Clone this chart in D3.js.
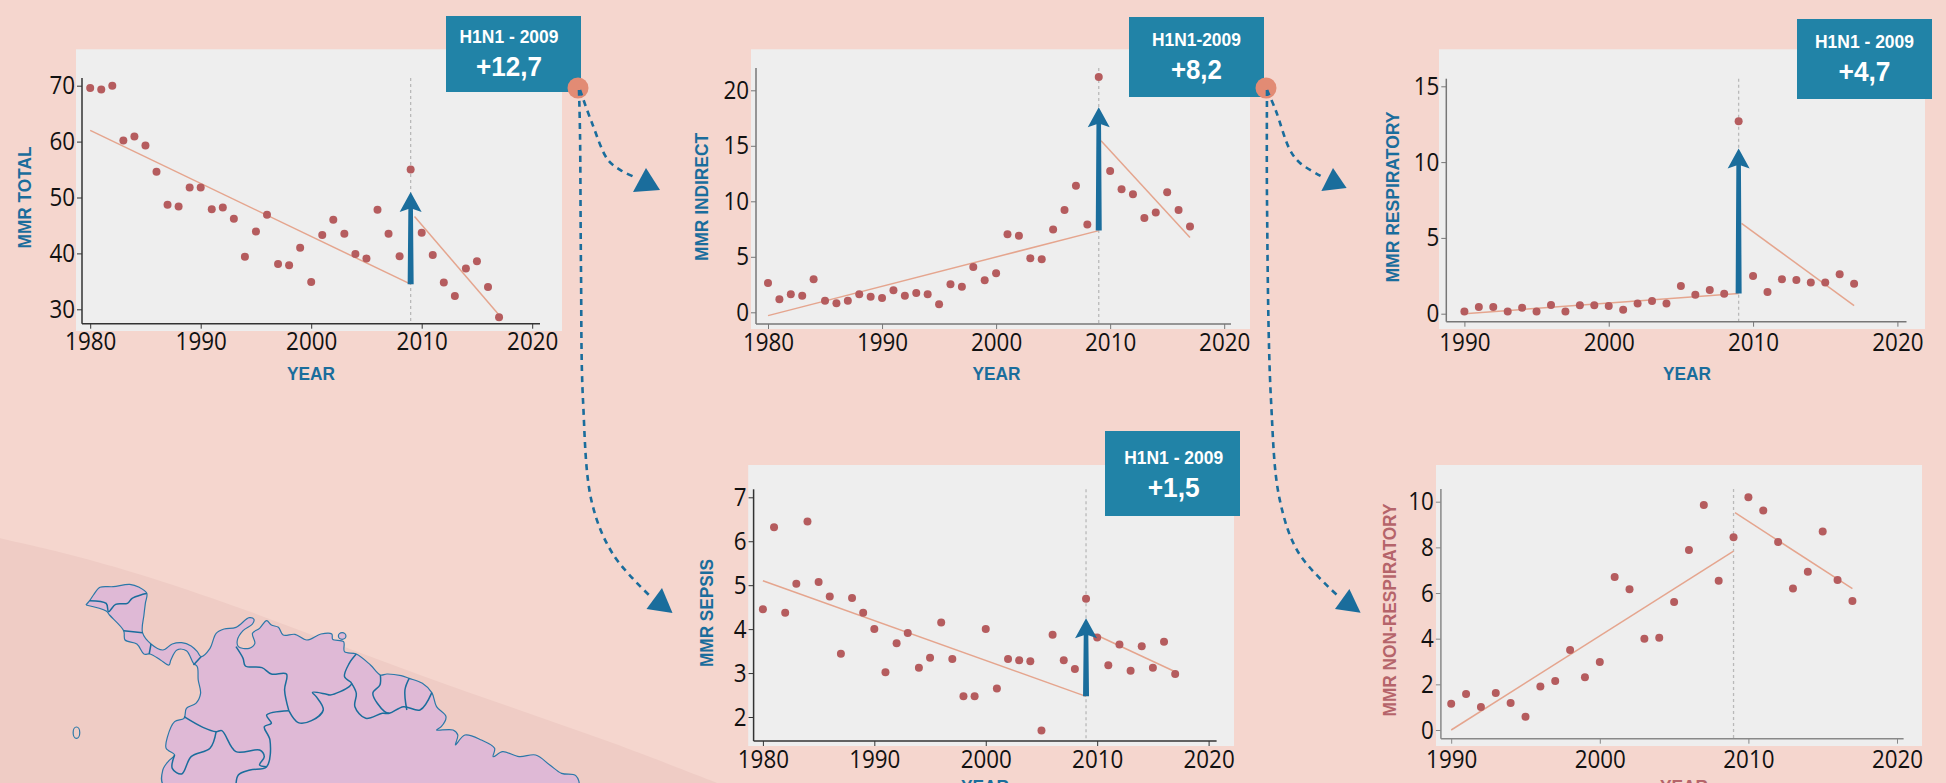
<!DOCTYPE html>
<html>
<head>
<meta charset="utf-8">
<title>MMR H1N1 2009</title>
<script src="https://cdn.jsdelivr.net/npm/d3@7"></script>
<style>
    html, body { margin: 0; padding: 0; background: #f5d6ce; overflow: hidden; }
    svg { display: block; }
    .tick text { font-family: "Open Sans", sans-serif; font-size: 25px; fill: #111; }
    .axis-title { font-family: "Liberation Sans", Arial, sans-serif; font-weight: bold; text-anchor: middle; }
    .box-text { font-family: "Liberation Sans", Arial, sans-serif; font-weight: bold; fill: #fff; text-anchor: middle; }
</style>
</head>
<body>
<div id="container"></div>
<script>
    // Data
    const yearsFrom1980 = d3.range(1980, 2018);
    const yearsFrom1990 = d3.range(1990, 2018);

    const mmrTotal = [69.6, 69.3, 70, 60.2, 60.9, 59.3, 54.6, 48.7, 48.4, 51.8, 51.8, 47.9, 48.2, 46.2, 39.4, 43.9, 46.9, 38.1, 37.9, 41, 34.9, 43.3, 46, 43.5, 39.9, 39.1, 47.8, 43.5, 39.5, 55, 43.7, 39.7, 34.8, 32.4, 37.3, 38.6, 34, 28.6];
    const mmrIndirect = [2.64, 1.17, 1.62, 1.5, 2.97, 1.05, 0.81, 1.05, 1.62, 1.41, 1.29, 1.98, 1.5, 1.74, 1.62, 0.72, 2.52, 2.31, 4.08, 2.88, 3.51, 7.03, 6.9, 4.86, 4.77, 7.45, 9.22, 11.41, 7.9, 21.2, 12.73, 11.08, 10.63, 8.5, 8.98, 10.81, 9.22, 7.72];
    const mmrRespiratory = [0.15, 0.44, 0.44, 0.15, 0.4, 0.15, 0.57, 0.15, 0.55, 0.55, 0.51, 0.26, 0.68, 0.84, 0.68, 1.83, 1.25, 1.56, 1.32, 12.69, 2.49, 1.43, 2.27, 2.22, 2.05, 2.05, 2.6, 1.98];
    const mmrSepsis = [4.45, 6.32, 4.37, 5.03, 6.45, 5.07, 4.74, 3.44, 4.71, 4.37, 4, 3.02, 3.68, 3.91, 3.12, 3.35, 4.15, 3.32, 2.47, 2.47, 4, 2.65, 3.32, 3.29, 3.27, 1.69, 3.87, 3.29, 3.09, 4.69, 3.81, 3.18, 3.65, 3.05, 3.61, 3.12, 3.71, 2.98];
    const mmrNonRespiratory = [1.15, 1.58, 1.01, 1.62, 1.18, 0.58, 1.91, 2.15, 3.5, 2.31, 2.98, 6.7, 6.16, 4, 4.04, 5.61, 7.88, 9.85, 6.54, 8.44, 10.19, 9.62, 8.23, 6.2, 6.93, 8.69, 6.57, 5.65];

    // Fitted segments: [startYear, startValue, endYear, endValue]
    const trendTotal = [[1980, 62, 2009, 34.5], [2009.35, 46.6, 2017, 29]];
    const trendIndirect = [[1980, -0.3, 2009, 7.36], [2009.2, 15.46, 2017, 6.73]];
    const trendRespiratory = [[1990, 0, 2009, 1.34], [2009.2, 5.96, 2017, 0.53]];
    const trendSepsis = [[1980, 5.1, 2009, 2.47], [2009.3, 3.94, 2017, 3.03]];
    const trendNonRespiratory = [[1990, 0, 2009, 7.84], [2009.1, 9.52, 2017, 6.19]];

    const ticks1980 = [1980, 1990, 2000, 2010, 2020];
    const ticks1990 = [1990, 2000, 2010, 2020];

    const width = 1946;
    const height = 783;
    const blue = "#1a6d9c";
    const boxBlue = "#2183a7";
    const dotColor = "#b55c5e";
    const trendColor = "#e5a58e";

    // Panel layout, in page pixels
    const panels = [
        { years: yearsFrom1980, values: mmrTotal, trend: trendTotal, xTicks: ticks1980, yTicks: [30, 40, 50, 60, 70],
          xDomain: [1980, 2020], xRange: [90.2, 532.2], yDomain: [30, 70], yRange: [309.3, 85.7],
          bg: [76, 49.3, 562, 331], axisX: 82, axisY: 323.7, axisTop: 78, axisRight: 540, axisColor: "#333", xPad: 4,
          label: "MMR TOTAL", labelX: 24.5, labelY: 197.5, labelLen: 102, yearX: 311, yearY: 374, titleColor: blue,
          arrow: [34.5, 51], box: [446, 16, 581, 92], boxLabel: "H1N1 - 2009", boxValue: "+12,7", boxCx: 509, boxY1: 36.7, boxY2: 65.7, w1: 99, w2: 66 },
        { years: yearsFrom1980, values: mmrIndirect, trend: trendIndirect, xTicks: ticks1980, yTicks: [0, 5, 10, 15, 20],
          xDomain: [1980, 2020], xRange: [768, 1224.2], yDomain: [0, 20], yRange: [312.3, 90.3],
          bg: [751, 49.3, 1250, 329], axisX: 756, axisY: 324, axisTop: 68, axisRight: 1231, axisColor: "#777", xPad: 4,
          label: "MMR INDIRECT", labelX: 701.5, labelY: 197, labelLen: 128, yearX: 996.5, yearY: 374, titleColor: blue,
          arrow: [7.36, 18.47], box: [1129, 17, 1264, 97], boxLabel: "H1N1-2009", boxValue: "+8,2", boxCx: 1196.4, boxY1: 40, boxY2: 69, w1: 89, w2: 51 },
        { years: yearsFrom1990, values: mmrRespiratory, trend: trendRespiratory, xTicks: ticks1990, yTicks: [0, 5, 10, 15],
          xDomain: [1990, 2020], xRange: [1464.4, 1897.4], yDomain: [0, 15], yRange: [313.7, 86.3],
          bg: [1439, 49.3, 1925, 329], axisX: 1446.3, axisY: 321.7, axisTop: 78.7, axisRight: 1906.5, axisColor: "#777", xPad: 6.5,
          label: "MMR RESPIRATORY", labelX: 1392, labelY: 197, labelLen: 171, yearX: 1687, yearY: 374, titleColor: blue,
          arrow: [1.34, 10.9], box: [1797, 19, 1932, 99], boxLabel: "H1N1 - 2009", boxValue: "+4,7", boxCx: 1864.5, boxY1: 42, boxY2: 70.7, w1: 99, w2: 52 },
        { years: yearsFrom1980, values: mmrSepsis, trend: trendSepsis, xTicks: ticks1980, yTicks: [2, 3, 4, 5, 6, 7],
          xDomain: [1980, 2020], xRange: [762.9, 1208.6], yDomain: [2, 7], yRange: [717, 497.3],
          bg: [748.2, 465, 1234, 746], axisX: 753.6, axisY: 741, axisTop: 489.3, axisRight: 1216.6, axisColor: "#333", xPad: 4,
          label: "MMR SEPSIS", labelX: 706, labelY: 613, labelLen: 108, yearX: 985, yearY: 787, titleColor: blue,
          arrow: [2.47, 4.25], box: [1105, 431, 1240, 516], boxLabel: "H1N1 - 2009", boxValue: "+1,5", boxCx: 1173.7, boxY1: 458, boxY2: 486.7, w1: 99, w2: 52 },
        { years: yearsFrom1990, values: mmrNonRespiratory, trend: trendNonRespiratory, xTicks: ticks1990, yTicks: [0, 2, 4, 6, 8, 10],
          xDomain: [1990, 2020], xRange: [1451.2, 1897], yDomain: [0, 10], yRange: [730, 501.7],
          bg: [1436, 465, 1922, 746], axisX: 1440.9, axisY: 738.7, axisTop: 489, axisRight: 1903.6, axisColor: "#888", xPad: 6.5,
          label: "MMR NON-RESPIRATORY", labelX: 1389, labelY: 610, labelLen: 213, yearX: 1684, yearY: 787, titleColor: "#b5646a" }
    ];

    // Map outline, in trace units
    const wedgeTop = [[0, 115], [150, 165], [300, 225], [500, 320], [700, 425], [900, 530], [1100, 630], [1300, 730], [1520, 849]];
    const mapOutline = [[182, 315], [190, 302], [198, 285], [212, 262], [240, 260], [275, 253], [295, 262], [311, 280], [308, 310], [305, 345], [302, 398], [320, 432], [345, 450], [365, 432], [385, 428], [405, 438], [418, 455], [426, 470], [445, 445], [458, 400], [475, 387], [500, 382], [528, 353], [538, 358], [535, 372], [515, 392], [503, 420], [505, 440], [528, 445], [540, 430], [535, 400], [550, 385], [565, 362], [575, 375], [590, 382], [600, 405], [625, 403], [650, 420], [680, 402], [703, 402], [705, 418], [728, 425], [730, 455], [755, 462], [785, 495], [806, 525], [820, 522], [850, 527], [867, 535], [895, 550], [915, 578], [925, 620], [945, 650], [935, 680], [925, 690], [960, 690], [970, 705], [965, 735], [985, 705], [1020, 720], [1048, 745], [1045, 770], [1065, 755], [1100, 770], [1135, 765], [1165, 795], [1190, 820], [1220, 827], [1225, 860], [349, 860], [345, 810], [358, 782], [370, 765], [352, 745], [355, 710], [370, 665], [390, 655], [395, 625], [415, 610], [425, 580], [420, 540], [418, 500], [410, 490], [395, 452], [375, 450], [362, 480], [358, 495], [340, 480], [318, 462], [305, 462], [290, 432], [265, 420], [262, 392], [232, 345], [225, 333], [182, 315]];
    const mapBorders = [
        [[190, 302], [225, 310], [230, 335], [245, 313], [270, 310], [280, 295], [311, 280]],
        [[262, 392], [302, 398]],
        [[320, 432], [316, 462]],
        [[426, 470], [410, 495]],
        [[500, 440], [515, 475], [520, 498], [555, 503], [575, 522], [607, 522], [603, 570], [612, 632]],
        [[612, 632], [632, 668], [660, 662], [685, 630], [670, 590], [662, 577], [690, 582], [700, 585], [740, 560], [745, 550], [730, 530], [740, 490], [755, 462]],
        [[745, 550], [755, 580], [752, 620], [775, 655], [810, 640], [825, 640], [855, 620], [890, 630], [915, 578]],
        [[806, 525], [805, 555], [790, 580], [815, 635], [825, 640]],
        [[867, 535], [858, 570], [862, 630]],
        [[612, 632], [565, 645], [575, 670], [560, 680], [572, 720], [565, 800], [530, 810], [505, 825], [500, 860]],
        [[390, 650], [430, 682], [458, 695], [470, 692], [500, 755], [550, 750], [560, 770], [550, 795], [565, 800]],
        [[458, 695], [445, 745], [405, 770], [385, 822], [365, 805], [370, 765]]
    ];

    const svg = d3.select("#container")
        .append("svg")
        .attr("width", width)
        .attr("height", height);

    // Background wedge and map
    const mapX = d3.scaleLinear().domain([0, 1568]).range([0, 740]);
    const mapY = d3.scaleLinear().domain([0, 849]).range([500, 783]);
    const traceLine = d3.line().x(d => mapX(d[0])).y(d => mapY(d[1])).curve(d3.curveCatmullRom);

    svg.append("path")
        .attr("d", traceLine(wedgeTop) + `L${mapX(0)},${mapY(849)}Z`)
        .attr("fill", "#efccc5");

    svg.append("path")
        .attr("d", traceLine(mapOutline))
        .attr("fill", "#dfb9d6")
        .attr("stroke", "#2b78a8")
        .attr("stroke-width", 1.2);

    svg.selectAll(".border")
        .data(mapBorders)
        .enter()
        .append("path")
        .attr("class", "border")
        .attr("d", traceLine)
        .attr("fill", "none")
        .attr("stroke", blue)
        .attr("stroke-width", 1.5);

    // Galapagos and Trinidad
    [[162, 698, 7, 17], [725, 408, 8, 10]].forEach(d => {
        svg.append("ellipse")
            .attr("cx", mapX(d[0])).attr("cy", mapY(d[1]))
            .attr("rx", mapX(d[2])).attr("ry", d[3] / 3)
            .attr("fill", d[0] > 500 ? "#dfb9d6" : "none")
            .attr("stroke", "#2b78a8")
            .attr("stroke-width", 1.2);
    });

    panels.forEach(drawPanel);

    function drawPanel(p) {
        const g = svg.append("g");
        const x = d3.scaleLinear().domain(p.xDomain).range(p.xRange);
        const y = d3.scaleLinear().domain(p.yDomain).range(p.yRange);

        g.append("rect")
            .attr("x", p.bg[0]).attr("y", p.bg[1])
            .attr("width", p.bg[2] - p.bg[0]).attr("height", p.bg[3] - p.bg[1])
            .attr("fill", "#eeeeee");

        // H1N1 year marker
        g.append("line")
            .attr("x1", x(2009)).attr("x2", x(2009))
            .attr("y1", p.axisTop).attr("y2", p.axisY)
            .attr("stroke", "#b9b9b9")
            .attr("stroke-width", 1.3)
            .attr("stroke-dasharray", "3,3");

        // Axes
        const xAxis = g.append("g")
            .attr("transform", `translate(0,${p.axisY})`)
            .call(d3.axisBottom(x).tickValues(p.xTicks).tickFormat(d3.format("d")).tickSize(5).tickPadding(p.xPad));
        xAxis.select(".domain").attr("d", `M${p.axisX},0H${p.axisRight}`);

        const yAxis = g.append("g")
            .attr("transform", `translate(${p.axisX},0)`)
            .call(d3.axisLeft(y).tickValues(p.yTicks).tickFormat(d3.format("d")).tickSize(5).tickPadding(2));
        yAxis.select(".domain").attr("d", `M0,${p.axisTop}V${p.axisY}`);

        [xAxis, yAxis].forEach(a => {
            a.attr("font-size", null).attr("font-family", null);
            a.select(".domain").attr("stroke", p.axisColor).attr("stroke-width", 1.5);
            a.selectAll(".tick line").attr("stroke", p.axisColor);
            a.selectAll(".tick text")
                .attr("textLength", function() { return this.textContent.length * 12.8; })
                .attr("lengthAdjust", "spacingAndGlyphs");
        });

        // Trend segments
        g.selectAll(".trend")
            .data(p.trend)
            .enter()
            .append("line")
            .attr("class", "trend")
            .attr("x1", d => x(d[0])).attr("y1", d => y(d[1]))
            .attr("x2", d => x(d[2])).attr("y2", d => y(d[3]))
            .attr("stroke", trendColor)
            .attr("stroke-width", 1.5);

        // Points
        g.selectAll(".dot")
            .data(p.values)
            .enter()
            .append("circle")
            .attr("class", "dot")
            .attr("cx", (d, i) => x(p.years[i]))
            .attr("cy", d => y(d))
            .attr("r", 4)
            .attr("fill", dotColor);

        // Jump arrow
        if (p.arrow) {
            const ax = x(2009);
            const base = y(p.arrow[0]);
            const tip = y(p.arrow[1]);
            g.append("path")
                .attr("d", `M${ax - 3},${base}L${ax - 2.3},${tip + 17}L${ax - 11},${tip + 20}L${ax},${tip}L${ax + 11},${tip + 20}L${ax + 2.3},${tip + 17}L${ax + 3},${base}Z`)
                .attr("fill", blue);
        }

        // Titles
        g.append("text")
            .attr("class", "axis-title")
            .attr("transform", `translate(${p.labelX},${p.labelY}) rotate(-90)`)
            .attr("dy", "0.35em")
            .attr("font-size", 19)
            .attr("textLength", p.labelLen)
            .attr("lengthAdjust", "spacingAndGlyphs")
            .attr("fill", p.titleColor)
            .text(p.label);
        g.append("text")
            .attr("class", "axis-title")
            .attr("x", p.yearX).attr("y", p.yearY)
            .attr("dy", "0.35em")
            .attr("font-size", 18)
            .attr("textLength", 48)
            .attr("lengthAdjust", "spacingAndGlyphs")
            .attr("fill", p.titleColor)
            .text("YEAR");

        // Value box
        if (p.box) {
            g.append("rect")
                .attr("x", p.box[0]).attr("y", p.box[1])
                .attr("width", p.box[2] - p.box[0]).attr("height", p.box[3] - p.box[1])
                .attr("fill", boxBlue);
            g.append("text")
                .attr("class", "box-text")
                .attr("x", p.boxCx).attr("y", p.boxY1)
                .attr("dy", "0.35em")
                .attr("font-size", 18)
                .attr("textLength", p.w1)
                .attr("lengthAdjust", "spacingAndGlyphs")
                .text(p.boxLabel);
            g.append("text")
                .attr("class", "box-text")
                .attr("x", p.boxCx).attr("y", p.boxY2)
                .attr("dy", "0.35em")
                .attr("font-size", 28)
                .attr("textLength", p.w2)
                .attr("lengthAdjust", "spacingAndGlyphs")
                .text(p.boxValue);
        }
    }

    // Connector curves between panels
    const connectors = [
        { path: [[580, 90], [592, 123], [608, 160], [622, 171], [637, 178]], head: [[646, 168], [660, 190], [633, 192]] },
        { path: [[579, 90], [580, 133], [581, 270], [583, 400], [592, 503], [613.5, 555], [651, 597]], head: [[662, 588], [672.5, 613], [646.5, 609]] },
        { path: [[1267, 90], [1275.6, 110], [1290, 150], [1300, 163], [1322.7, 177]], head: [[1333, 168], [1346.6, 188], [1321.4, 191]] },
        { path: [[1267, 90], [1267, 200], [1271, 400], [1279.8, 500], [1298.7, 553], [1337, 595]], head: [[1349.4, 589], [1360.6, 612.7], [1335, 609]] }
    ];
    const connectorLine = d3.line().curve(d3.curveCatmullRom);

    // Orange origin markers
    [[578, 88], [1266, 88]].forEach(c => {
        svg.append("circle")
            .attr("cx", c[0]).attr("cy", c[1])
            .attr("r", 10.5)
            .attr("fill", "#e28b74");
    });

    connectors.forEach(c => {
        svg.append("path")
            .attr("d", connectorLine(c.path))
            .attr("fill", "none")
            .attr("stroke", blue)
            .attr("stroke-width", 2.6)
            .attr("stroke-dasharray", "6,5");
        svg.append("polygon")
            .attr("points", c.head.map(d => d.join(",")).join(" "))
            .attr("fill", blue);
    });
</script>
</body>
</html>
